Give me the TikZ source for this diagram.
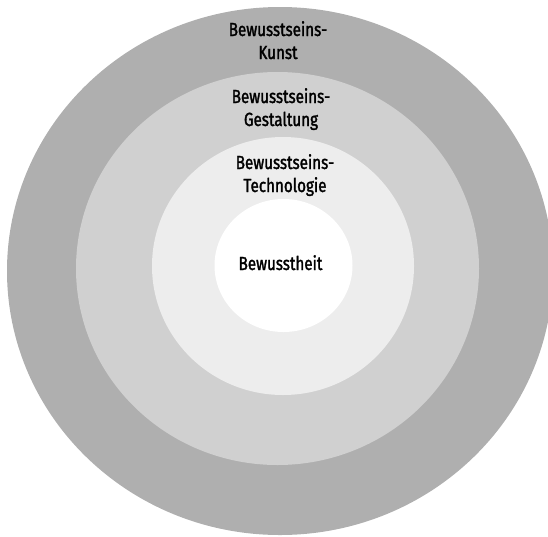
\documentclass[tikz,border=0pt]{standalone}
\usepackage{fontspec}
\setmainfont{Fira Sans}[FakeStretch=0.80, FakeBold=1.6]
\definecolor{ringouter}{HTML}{AFAFAF}
\definecolor{ringmiddle}{HTML}{D0D0D0}
\definecolor{ringinner}{HTML}{EDEDED}
\begin{document}
\begin{tikzpicture}[x=1pt, y=-1pt,
	ringtext/.style={anchor=base, align=center, inner sep=0pt, font=\fontsize{19}{23}\selectfont}]
	\useasboundingbox (0,0) rectangle (548,536);
	% Rings, outside to inside:
	\fill[ringouter] (280,271) ellipse [x radius=273pt, y radius=264pt];
	\fill[ringmiddle] (277.5,268.5) ellipse [x radius=201.5pt, y radius=196.5pt];
	\fill[ringinner] (283,266) ellipse [x radius=131pt, y radius=129pt];
	\fill[white] (283.5,265.5) ellipse [x radius=69pt, y radius=66.5pt];
	% Labels:
	\node[ringtext] (kunst) at (278,59) {Bewusstseins-\\Kunst};
	\node[ringtext] (gestaltung) at (281,126) {Bewusstseins-\\Gestaltung};
	\node[ringtext] (technologie) at (285,192) {Bewusstseins-\\Technologie};
	\node[ringtext] (bewusstheit) at (280.5,270) {Bewusstheit};
\end{tikzpicture}
\end{document}
